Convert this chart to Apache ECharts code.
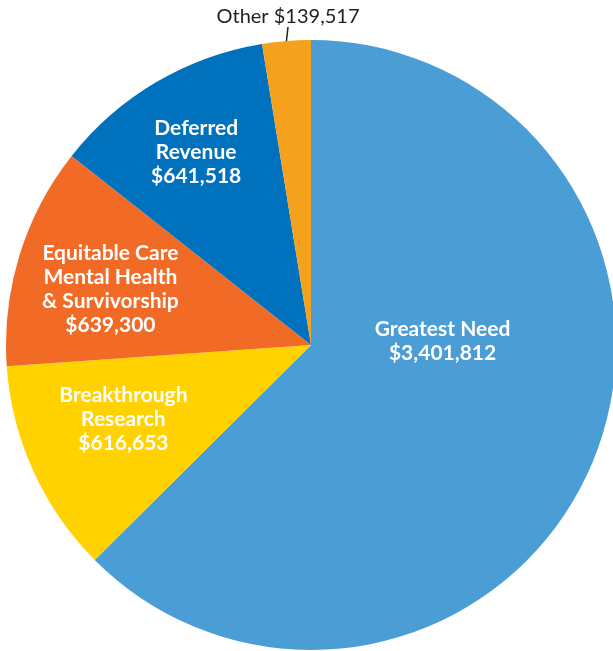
<!DOCTYPE html>
<html><head><meta charset="utf-8">
<script src="https://cdn.jsdelivr.net/npm/echarts@6/dist/echarts.min.js"></script>
<style>html,body{margin:0;padding:0;background:#fff}#c{width:613px;height:651px}</style>
</head><body><div id="c"></div>
<script>
const categories = ["Greatest Need", "Breakthrough\nResearch", "Equitable Care\nMental Health\n& Survivorship", "Deferred\nRevenue", "Other"];
const values = [3401812, 616653, 639300, 641518, 139517];
const colors = ["#4B9DD5", "#FFD200", "#F26B26", "#0071BC", "#F4A11D"];
const labelOffsets = [[-12, -63], [-46, 10], [-52, -10], [-36, -59], [0, 0]];

const fmt = v => "$" + v.toLocaleString("en-US");
const chart = echarts.init(document.getElementById('c'));
chart.setOption({
  animation: false,
  series: [{
    type: 'pie',
    center: [311, 345],
    radius: [0, 305],
    startAngle: 90,
    clockwise: true,
    avoidLabelOverlap: false,
    itemStyle: { borderWidth: 0 },
    data: categories.map((c, i) => {
      const isOther = i === 4;
      return {
        name: c, value: values[i],
        itemStyle: { color: colors[i] },
        label: isOther ? {
          show: true, position: 'outside',
          formatter: p => p.name + " " + fmt(p.value),
          color: '#231F20', fontFamily: 'Lato', fontWeight: 'normal', fontSize: 20
        } : {
          show: true, position: 'inside',
          formatter: p => p.name + "\n" + fmt(p.value),
          color: '#fff', fontFamily: 'Lato', fontWeight: 'bold', fontSize: 21, lineHeight: 24, align: 'center'
        },
        labelLine: isOther ? { show: true, length: 14, length2: 0, lineStyle: { color: '#231F20', width: 1.5 } } : { show: false }
      };
    }),
    labelLayout: function (p) {
      if (p.dataIndex === 4) {
        return { x: 288, y: 17, align: 'center', verticalAlign: 'middle' };
      }
      const o = labelOffsets[p.dataIndex];
      return { dx: o[0], dy: o[1] };
    }
  }]
});
</script></body></html>
